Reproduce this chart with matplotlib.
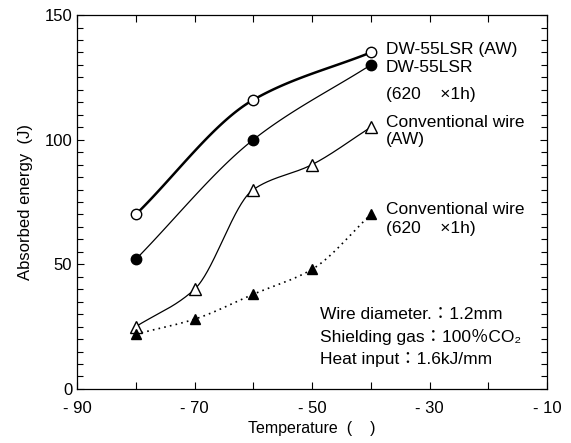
import matplotlib.pyplot as plt
import numpy as np

plt.rcParams['font.family'] = ['Liberation Sans', 'Noto Sans CJK JP']

# data
temp_circ = [-80, -60, -40]
dw_aw = [70, 116, 135]
dw_pwht = [52, 100, 130]

temp_tri = [-80, -70, -60, -50, -40]
conv_aw = [25, 40, 80, 90, 105]
conv_pwht = [22, 28, 38, 48, 70]

xticks = [-90, -80, -70, -60, -50, -40, -30, -20, -10]
xlabels = ['- 90', '', '- 70', '', '- 50', '', '- 30', '', '- 10']
yticks = [0, 50, 100, 150]


def smooth(x, y, n=60):
    # monotone cubic hermite curve through the points (for drawing only)
    x = np.asarray(x, float)
    y = np.asarray(y, float)
    h = np.diff(x)
    d = np.diff(y) / h
    m = np.zeros_like(y)
    m[0], m[-1] = d[0], d[-1]
    for i in range(1, len(y) - 1):
        if d[i - 1] * d[i] > 0:
            w1 = 2 * h[i] + h[i - 1]
            w2 = h[i] + 2 * h[i - 1]
            m[i] = (w1 + w2) / (w1 / d[i - 1] + w2 / d[i])
    xs, ys = [], []
    for i in range(len(h)):
        t = np.linspace(0, 1, n)
        h00 = 2 * t**3 - 3 * t**2 + 1
        h10 = t**3 - 2 * t**2 + t
        h01 = -2 * t**3 + 3 * t**2
        h11 = t**3 - t**2
        xs.append(x[i] + t * h[i])
        ys.append(h00 * y[i] + h10 * h[i] * m[i] + h01 * y[i + 1] + h11 * h[i] * m[i + 1])
    return np.concatenate(xs), np.concatenate(ys)


fig = plt.figure(figsize=(5.71, 4.43), dpi=100)
ax = fig.add_axes([0.135, 0.122, 0.823, 0.844])

ax.plot(*smooth(temp_circ, dw_aw), color='black', lw=1.8, zorder=2)
ax.plot(*smooth(temp_circ, dw_pwht), color='black', lw=0.9, zorder=2)
ax.plot(*smooth(temp_tri, conv_aw), color='black', lw=0.9, zorder=2)
ax.plot(*smooth(temp_tri, conv_pwht), color='black', lw=1.2, ls=(0, (1, 2.5)), zorder=2)

ax.plot(temp_circ, dw_aw, 'o', ms=7.5, mfc='white', mec='black', mew=1.0, zorder=3)
ax.plot(temp_circ, dw_pwht, 'o', ms=7.5, mfc='black', mec='black', zorder=3)
ax.plot(temp_tri, conv_aw, '^', ms=8, mfc='white', mec='black', mew=1.0, zorder=3)
ax.plot(temp_tri, conv_pwht, '^', ms=6.5, mfc='black', mec='black', zorder=3)

ax.set_xlim(-90, -10)
ax.set_ylim(0, 150)
ax.set_xticks(xticks)
ax.set_xticklabels(xlabels)
ax.set_yticks(yticks)
ax.set_yticks(np.arange(0, 151, 5), minor=True)
ax.tick_params(which='both', direction='in', top=True, right=True, labelsize=12)
ax.tick_params(which='major', length=5, width=0.8)
ax.tick_params(which='minor', length=4, width=0.8)
ax.tick_params(axis='x', pad=9)
for s in ax.spines.values():
    s.set_linewidth(0.9)

ax.set_xlabel('Temperature  (    )', fontsize=11.5, labelpad=3)
ax.set_ylabel('Absorbed energy  (J)', fontsize=12, labelpad=8)

fs = 12.5
ax.text(-37.4, 136, 'DW-55LSR (AW)', fontsize=fs, va='center')
ax.text(-37.4, 129, 'DW-55LSR', fontsize=fs, va='center')
ax.text(-37.4, 118, '(620    ×1h)', fontsize=fs, va='center')
ax.text(-37.4, 107, 'Conventional wire', fontsize=fs, va='center')
ax.text(-37.4, 100, '(AW)', fontsize=fs, va='center')
ax.text(-37.4, 72, 'Conventional wire', fontsize=fs, va='center')
ax.text(-37.4, 64.5, '(620    ×1h)', fontsize=fs, va='center')

ax.text(-48.6, 30, 'Wire diameter.：1.2mm', fontsize=fs, va='center')
ax.text(-48.6, 21, 'Shielding gas：100％CO₂', fontsize=fs, va='center')
ax.text(-48.6, 12, 'Heat input：1.6kJ/mm', fontsize=fs, va='center')

fig.savefig('out.png', dpi=100)
